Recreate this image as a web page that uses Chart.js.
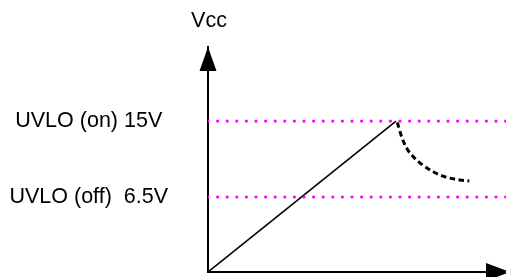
<!DOCTYPE html>
<html><head><meta charset="utf-8">
<script src="https://cdn.jsdelivr.net/npm/chart.js@4/dist/chart.umd.min.js"></script>
<style>html,body{margin:0;padding:0;background:#fff;overflow:hidden}canvas{display:block}</style>
</head><body><canvas id="c" width="506" height="277"></canvas>
<script>
// Data (schematic units: time on x, Vcc volts on y)
const yTitle = 'Vcc';
const levelValues = [6.5, 15];
const levelLabels = ['UVLO (off)  6.5V', 'UVLO (on) 15V'];
const xRange = [0, 15.85];
const yRange = [-1.9, 23.3];
const rampX = [0, 10];
const rampY = [-1.9, 15];
const decayX = [10.07, 10.3, 10.57, 10.92, 11.37, 11.98, 12.7, 13.4, 13.9];
const decayY = [14.85, 13.24, 11.95, 11.01, 10.16, 9.33, 8.7, 8.4, 8.29];

const FONT = "'Liberation Sans', Arial, sans-serif";
const zip = (xs, ys) => xs.map((x, i) => ({x, y: ys[i]}));

const levelSets = levelValues.map(v => ({
  data: [{x: xRange[0], y: v}, {x: xRange[1], y: v}],
  borderColor: '#ff00ff', borderWidth: 3.2, borderDash: [0, 9.6],
  borderCapStyle: 'round', pointRadius: 0, fill: false
}));

const arrows = {
  id: 'arrows',
  afterDraw(chart) {
    const {ctx, chartArea: a} = chart;
    ctx.save();
    ctx.fillStyle = '#000';
    ctx.beginPath();
    ctx.moveTo(a.left - 8.5, a.top + 24);
    ctx.lineTo(a.left + 8.5, a.top + 24);
    ctx.lineTo(a.left, a.top);
    ctx.closePath(); ctx.fill();
    ctx.beginPath();
    ctx.moveTo(a.right - 20, a.bottom - 9);
    ctx.lineTo(a.right - 20, a.bottom + 9);
    ctx.lineTo(a.right + 4, a.bottom);
    ctx.closePath(); ctx.fill();
    ctx.font = '21.5px ' + FONT;
    ctx.textAlign = 'center'; ctx.textBaseline = 'middle';
    ctx.fillText(yTitle, a.left + 1, a.top - 26);
    ctx.restore();
  }
};

new Chart(document.getElementById('c'), {
  type: 'line',
  data: {
    datasets: [
      ...levelSets,
      {data: zip(rampX, rampY), borderColor: '#000', borderWidth: 1.6, pointRadius: 0, fill: false},
      {data: zip(decayX, decayY), borderColor: '#000', borderWidth: 3, borderDash: [5.5, 3.5],
       cubicInterpolationMode: 'monotone', pointRadius: 0, fill: false}
    ]
  },
  options: {
    responsive: false, maintainAspectRatio: false, animation: false, devicePixelRatio: 1,
    layout: {padding: {top: 47, right: 0, bottom: 0, left: 0}},
    plugins: {legend: {display: false}, tooltip: {enabled: false}},
    scales: {
      x: {type: 'linear', min: xRange[0], max: xRange[1],
          grid: {display: false, drawTicks: false},
          border: {display: true, color: '#000', width: 2},
          ticks: {display: false},
          afterFit(s) { s.height = 5; s.paddingLeft = 0; s.paddingRight = 0; }},
      y: {type: 'linear', min: yRange[0], max: yRange[1],
          grid: {display: false, drawTicks: false},
          border: {display: true, color: '#000', width: 2},
          afterBuildTicks(s) { s.ticks = levelValues.map(v => ({value: v})); },
          ticks: {color: '#000', font: {size: 21.5, family: FONT}, padding: 40, crossAlign: 'center',
                  callback: (v) => { const i = levelValues.indexOf(v); return i >= 0 ? levelLabels[i] : ''; }},
          afterFit(s) { s.width = 208; s.paddingTop = 0; s.paddingBottom = 0; }}
    }
  },
  plugins: [arrows]
});
</script>
</body></html>
